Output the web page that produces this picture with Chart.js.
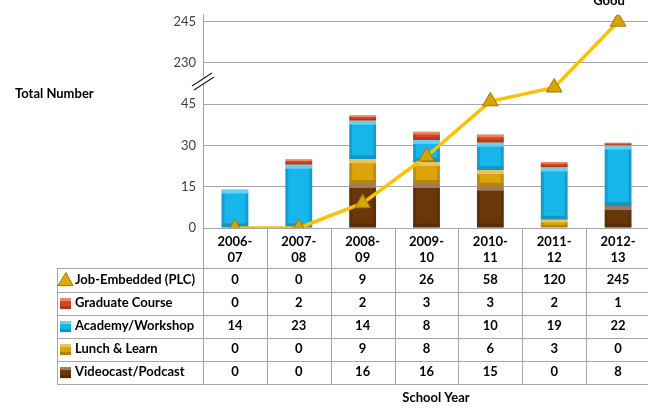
<!DOCTYPE html>
<html>
<head>
<meta charset="utf-8">
<script src="https://cdn.jsdelivr.net/npm/chart.js@4"></script>
<style>
    html, body { margin: 0; padding: 0; background: #fff; overflow: hidden; }
    #wrap { position: relative; width: 660px; height: 408px; }
</style>
</head>
<body>
<div id="wrap"><canvas id="chart" width="660" height="408"></canvas></div>
<script>
// Chart data
const schoolYears = [['2006-', '07'], ['2007-', '08'], ['2008-', '09'], ['2009-', '10'],
    ['2010-', '11'], ['2011-', '12'], ['2012-', '13']];
const jobEmbedded = [0, 0, 9, 26, 58, 120, 245];
const graduateCourse = [0, 2, 2, 3, 3, 2, 1];
const academyWorkshop = [14, 23, 14, 8, 10, 19, 22];
const lunchLearn = [0, 0, 9, 8, 6, 3, 0];
const videocastPodcast = [0, 0, 16, 16, 15, 0, 8];
const yTickValues = [0, 15, 30, 45, 60, 75];
const yTickLabels = ['0', '15', '30', '45', '230', '245'];

const FONT = 'Lato, "Open Sans", sans-serif';
const GRID = '#a6a6a6';

// Broken axis: 0-45 as is, 45-230 squeezed into one step, 230+ as is
function toAxis(v) {
    if (v <= 45) return v;
    if (v <= 230) return 45 + (v - 45) * 15 / 185;
    return 60 + (v - 230);
}

// Rows of the data table (top to bottom)
const tableRows = [
    { label: 'Job-Embedded (PLC)', values: jobEmbedded, color: '#e0aa00', icon: 'triangle' },
    { label: 'Graduate Course', values: graduateCourse, color: '#d9461b', icon: 'box' },
    { label: 'Academy/Workshop', values: academyWorkshop, color: '#16b6ea', icon: 'box' },
    { label: 'Lunch & Learn', values: lunchLearn, color: '#dca40a', icon: 'box' },
    { label: 'Videocast/Podcast', values: videocastPodcast, color: '#6a3808', icon: 'box' }
];

// Bevel look on bars, drawn right after each bar dataset
const bevelPlugin = {
    id: 'bevel',
    afterDatasetDraw(chart, args) {
        const meta = args.meta;
        if (meta.type !== 'bar') return;
        const ctx = chart.ctx;
        ctx.save();
        meta.data.forEach(bar => {
            const x0 = bar.x - bar.width / 2, x1 = bar.x + bar.width / 2;
            const top = Math.min(bar.y, bar.base), bot = Math.max(bar.y, bar.base);
            const h = bot - top;
            if (h < 1) return;
            const e = Math.min(4, h / 3);
            ctx.fillStyle = 'rgba(255,255,255,0.35)';
            ctx.fillRect(x0, top, bar.width, e);
            ctx.fillStyle = 'rgba(0,0,0,0.18)';
            ctx.fillRect(x0, bot - e, bar.width, e);
            ctx.fillStyle = 'rgba(0,0,0,0.12)';
            ctx.fillRect(x0, top + e, 3, h - 2 * e);
            ctx.fillRect(x1 - 3, top + e, 3, h - 2 * e);
        });
        ctx.restore();
    }
};

// Axis break, titles and the data table
const decorPlugin = {
    id: 'decor',
    afterDraw(chart) {
        const ctx = chart.ctx;
        const x = chart.scales.x;
        const area = chart.chartArea;
        const half = (x.getPixelForValue(1) - x.getPixelForValue(0)) / 2;
        const rowTop = [268, 291.5, 314.5, 337.5, 360.5];
        const rowH = 23.2;
        const tableBottom = 384;
        const legendLeft = 57;

        ctx.save();

        // break marks on the y axis
        ctx.fillStyle = '#fff';
        ctx.beginPath();
        ctx.moveTo(192, 86); ctx.lineTo(212, 73); ctx.lineTo(214, 77); ctx.lineTo(194, 90);
        ctx.closePath(); ctx.fill();
        ctx.strokeStyle = '#222';
        ctx.lineWidth = 1.2;
        ctx.beginPath();
        ctx.moveTo(192, 86); ctx.lineTo(212, 73);
        ctx.moveTo(194, 90); ctx.lineTo(214, 77);
        ctx.stroke();

        // table lines
        ctx.strokeStyle = GRID;
        ctx.lineWidth = 1;
        ctx.beginPath();
        rowTop.concat([tableBottom]).forEach(y => {
            ctx.moveTo(legendLeft, Math.round(y) + 0.5);
            ctx.lineTo(area.right, Math.round(y) + 0.5);
        });
        ctx.moveTo(legendLeft + 0.5, rowTop[0]);
        ctx.lineTo(legendLeft + 0.5, tableBottom);
        for (let i = 0; i <= schoolYears.length; i++) {
            const cx = Math.round(x.getPixelForValue(i) - half) + 0.5;
            ctx.moveTo(cx, area.bottom);
            ctx.lineTo(cx, tableBottom);
        }
        ctx.stroke();

        // header: school years
        ctx.fillStyle = '#000';
        ctx.font = 'bold 13px ' + FONT;
        ctx.textAlign = 'center';
        ctx.textBaseline = 'middle';
        schoolYears.forEach((lines, i) => {
            const cx = x.getPixelForValue(i);
            ctx.fillText(lines[0], cx, 242);
            ctx.fillText(lines[1], cx, 258);
        });

        // rows: legend keys and values
        tableRows.forEach((row, r) => {
            const cy = rowTop[r] + rowH / 2;
            ctx.fillStyle = '#000';
            ctx.textAlign = 'center';
            row.values.forEach((v, i) => {
                ctx.fillText(String(v), x.getPixelForValue(i), cy);
            });
            ctx.textAlign = 'left';
            ctx.fillText(row.label, 75, cy);
            drawKey(ctx, row, 60, cy);
        });

        // titles
        ctx.fillStyle = '#000';
        ctx.textAlign = 'left';
        ctx.fillText('Total Number', 15, 94);
        ctx.textAlign = 'center';
        ctx.fillText('School Year', 436, 398);
        ctx.font = 'bold 13px ' + FONT;
        ctx.textBaseline = 'alphabetic';
        ctx.fillText('Good', 609, 5);

        ctx.restore();
    }
};

// Small legend key in the table
function drawKey(ctx, row, x, cy) {
    if (row.icon === 'triangle') {
        ctx.fillStyle = row.color;
        ctx.beginPath();
        ctx.moveTo(x + 6, cy - 7);
        ctx.lineTo(x + 13, cy + 6);
        ctx.lineTo(x - 2, cy + 6);
        ctx.closePath();
        ctx.fill();
        ctx.strokeStyle = '#a07800';
        ctx.stroke();
        return;
    }
    ctx.fillStyle = row.color;
    ctx.fillRect(x, cy - 5, 11, 11);
    ctx.fillStyle = 'rgba(255,255,255,0.35)';
    ctx.fillRect(x, cy - 5, 11, 3);
    ctx.fillStyle = 'rgba(0,0,0,0.2)';
    ctx.fillRect(x, cy + 3, 11, 3);
}

function barSet(label, data, color) {
    return {
        type: 'bar',
        label: label,
        data: data,
        backgroundColor: color,
        borderWidth: 0,
        order: 1,
        stack: 'total'
    };
}

new Chart(document.getElementById('chart').getContext('2d'), {
    data: {
        labels: schoolYears.map(l => l.join('')),
        datasets: [
            {
                type: 'line',
                label: 'Job-Embedded (PLC)',
                data: jobEmbedded.map(toAxis),
                borderColor: '#ffc000',
                borderWidth: 3.5,
                pointStyle: 'triangle',
                pointRadius: 9,
                pointBackgroundColor: '#d6a300',
                pointBorderColor: '#a07800',
                pointBorderWidth: 1,
                tension: 0,
                order: 0
            },
            barSet('Videocast/Podcast', videocastPodcast, '#6a3808'),
            barSet('Lunch & Learn', lunchLearn, '#dca40a'),
            barSet('Academy/Workshop', academyWorkshop, '#16b6ea'),
            barSet('Graduate Course', graduateCourse, '#d9461b')
        ]
    },
    options: {
        responsive: false,
        animation: false,
        layout: { padding: { top: 13, bottom: 180, left: 0, right: 2 } },
        datasets: { bar: { categoryPercentage: 1, barPercentage: 0.42 } },
        plugins: { legend: { display: false }, tooltip: { enabled: false } },
        scales: {
            x: {
                display: false,
                stacked: true
            },
            y: {
                stacked: true,
                min: 0,
                max: 77.5,
                afterBuildTicks: scale => {
                    scale.ticks = yTickValues.map(v => ({ value: v }));
                },
                afterFit: scale => { scale.width = 203; },
                border: { color: GRID, width: 1 },
                grid: { color: GRID, drawTicks: false },
                ticks: {
                    padding: 7,
                    color: '#404040',
                    font: { family: FONT, size: 13 },
                    callback: value => yTickLabels[yTickValues.indexOf(value)]
                }
            }
        }
    },
    plugins: [bevelPlugin, decorPlugin]
});
</script>
</body>
</html>
